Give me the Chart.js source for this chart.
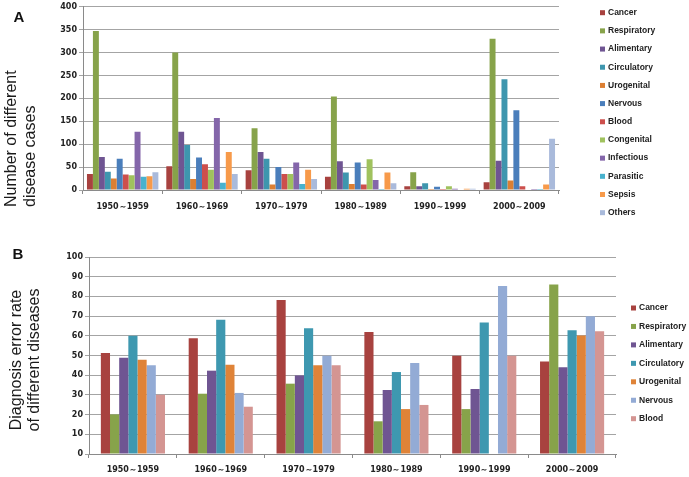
<!DOCTYPE html>
<html><head><meta charset="utf-8">
<script src="https://cdn.jsdelivr.net/npm/chart.js@4"></script>
<style>
html,body{margin:0;padding:0;background:#fff;width:689px;height:477px;overflow:hidden}
#wa{position:absolute;left:0;top:0;width:689px;height:230px}
#wb{position:absolute;left:0;top:235px;width:689px;height:242px}
</style></head><body>
<div id="wa"><canvas id="ca"></canvas></div>
<div id="wb"><canvas id="cb"></canvas></div>
<script>
// ---- categories ----
const decades = ['1950～1959','1960～1969','1970～1979','1980～1989','1990～1999','2000～2009'];

// ---- Panel A: number of cases ----
const seriesA = ['Cancer','Respiratory','Alimentary','Circulatory','Urogenital','Nervous','Blood','Congenital','Infectious','Parasitic','Sepsis','Others'];
const casesCancer      = [35, 52, 43, 29, 8, 17];
const casesRespiratory = [347, 300, 135, 204, 39, 330];
const casesAlimentary  = [72, 127, 83, 63, 8, 64];
const casesCirculatory = [40, 98, 68, 38, 15, 242];
const casesUrogenital  = [25, 24, 12, 13, 2, 21];
const casesNervous     = [68, 71, 50, 60, 7, 174];
const casesBlood       = [34, 56, 35, 12, 2, 8];
const casesCongenital  = [32, 44, 35, 67, 8, 0];
const casesInfectious  = [127, 157, 60, 22, 3, 2];
const casesParasitic   = [29, 16, 13, 2, 1, 2];
const casesSepsis      = [30, 83, 44, 38, 3, 12];
const casesOthers      = [39, 35, 24, 15, 3, 112];
const ticksA = {min: 0, max: 400, step: 50};

// ---- Panel B: diagnosis error rate ----
const seriesB = ['Cancer','Respiratory','Alimentary','Circulatory','Urogenital','Nervous','Blood'];
const rateCancer      = [51.3, 58.7, 78.2, 61.9, 49.9, 47.0];
const rateRespiratory = [20.1, 30.6, 35.7, 16.6, 22.8, 86.1];
const rateAlimentary  = [48.9, 42.3, 39.9, 32.5, 33.0, 44.0];
const rateCirculatory = [60.0, 68.2, 63.8, 41.6, 66.7, 62.8];
const rateUrogenital  = [47.9, 45.3, 45.0, 22.8, 0, 60.2];
const rateNervous     = [45.0, 31.0, 49.9, 46.2, 85.3, 69.9];
const rateBlood       = [30.1, 24.0, 45.0, 24.9, 49.9, 62.3];
const ticksB = {min: 0, max: 100, step: 10};

// ---- colours ----
const coloursA = ['#A8423F','#87A34A','#6F5592','#3E96AE','#DC7F33','#4A7EBB','#CD4F4C','#A0C25E','#8466AA','#48B2CE','#F79A4A','#A9BADB'];
const coloursB = ['#A8423F','#87A34A','#6F5592','#3E98B0','#DF8338','#93ABD5','#D49592'];

const decor = {
  id: 'decor',
  afterDraw(chart, args, o) {
    const ctx = chart.ctx;
    ctx.save();
    ctx.fillStyle = '#111';
    ctx.font = 'bold 15px "Liberation Sans"';
    ctx.textAlign = 'center'; ctx.textBaseline = 'middle';
    ctx.fillText(o.letter, o.letterX, o.letterY);
    ctx.font = '16px "Liberation Sans"';
    ctx.fillStyle = '#1a1a1a';
    o.titleLines.forEach((t, i) => {
      ctx.save();
      ctx.translate(o.titleX[i], o.titleY);
      ctx.rotate(-Math.PI / 2);
      ctx.textAlign = o.titleAlign;
      ctx.textBaseline = 'middle';
      ctx.fillText(t, 0, 0);
      ctx.restore();
    });
    ctx.font = 'bold 8.5px "Liberation Sans"';
    ctx.textAlign = 'left'; ctx.textBaseline = 'middle';
    chart.data.datasets.forEach((ds, i) => {
      const y = o.legY + i * o.legStep;
      ctx.fillStyle = ds.backgroundColor;
      ctx.fillRect(o.legX, y - 2.5, 5, 5);
      ctx.fillStyle = '#222';
      ctx.fillText(ds.label, o.legX + 8, y);
    });
    ctx.restore();
  }
};

function build(id, names, arrays, colours, tk, cfg) {
  return new Chart(document.getElementById(id), {
    type: 'bar',
    data: {
      labels: decades,
      datasets: names.map((n, i) => ({
        label: n, data: arrays[i], backgroundColor: colours[i], borderWidth: 0,
        barPercentage: 1.0, categoryPercentage: cfg.catPct
      }))
    },
    options: {
      responsive: true, maintainAspectRatio: false, animation: false,
      layout: {padding: cfg.padding},
      plugins: {legend: {display: false}, tooltip: {enabled: false}, decor: cfg.decor},
      scales: {
        x: {
          grid: {drawOnChartArea: false, drawTicks: true, tickLength: 4, color: '#8a8a8a', offset: true},
          border: {color: '#8a8a8a'},
          ticks: {font: {family: 'DejaVu Sans', weight: 'bold', size: 8}, color: '#222', padding: cfg.xPad, maxRotation: 0, autoSkip: false},
          afterFit: s => { s.height = cfg.xHeight; }
        },
        y: {
          min: tk.min, max: tk.max,
          grid: {color: '#a4a4a4', tickLength: 4, drawTicks: true},
          border: {color: '#8a8a8a'},
          ticks: {stepSize: tk.step, font: {family: 'DejaVu Sans', weight: 'bold', size: 8}, color: '#222', padding: 2},
          afterFit: s => { s.width = cfg.yWidth; }
        }
      }
    },
    plugins: [decor]
  });
}

build('ca', seriesA,
  [casesCancer, casesRespiratory, casesAlimentary, casesCirculatory, casesUrogenital, casesNervous,
   casesBlood, casesCongenital, casesInfectious, casesParasitic, casesSepsis, casesOthers],
  coloursA, ticksA,
  {catPct: 0.9, padding: {top: 5, right: 130, left: 0, bottom: 0}, xHeight: 40, yWidth: 83, xPad: 8,
   decor: {letter: 'A', letterX: 19, letterY: 18, titleLines: ['Number of different', 'disease cases'],
           titleX: [12, 31], titleY: 207, titleAlign: 'left', legX: 600, legY: 12.7, legStep: 18.18}});

build('cb', seriesB,
  [rateCancer, rateRespiratory, rateAlimentary, rateCirculatory, rateUrogenital, rateNervous, rateBlood],
  coloursB, ticksB,
  {catPct: 0.73, padding: {top: 22, right: 73, left: 0, bottom: 0}, xHeight: 23, yWidth: 89, xPad: 7,
   decor: {letter: 'B', letterX: 18, letterY: 20, titleLines: ['Diagnosis error rate', 'of different diseases'],
           titleX: [17, 35], titleY: 125, titleAlign: 'center', legX: 631, legY: 73, legStep: 18.45}});
</script>
</body></html>
